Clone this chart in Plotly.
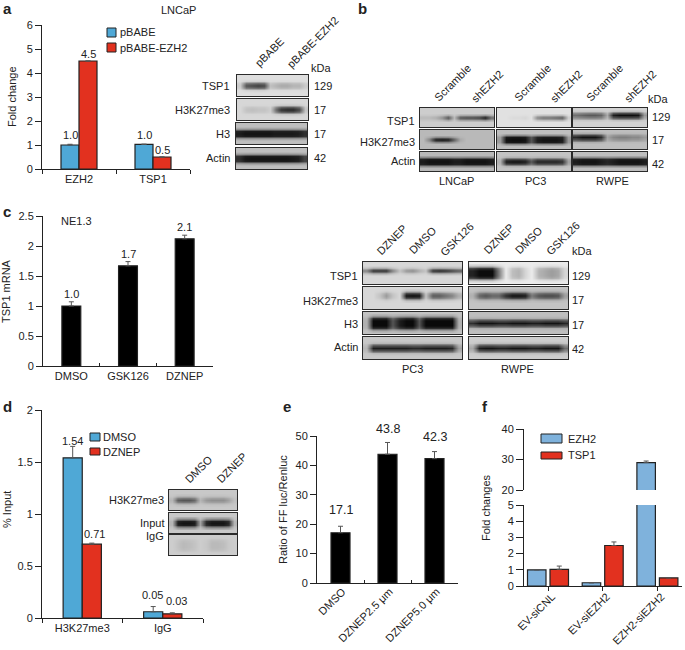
import numpy as np
import plotly.graph_objects as go

W, H = 685, 650
FONT = "Liberation Sans, Arial, sans-serif"
INK = "#222222"
BLUE = "#4FA8D6"
RED = "#E2311F"
SKY = "#7FB2DC"

# ---------- chart data ----------
a_cats = ["EZH2", "TSP1"]
a_pbabe = [1.0, 1.03]
a_ezh2 = [4.5, 0.5]
a_pbabe_err = [0.03, 0.0]
a_ezh2_err = [0.0, 0.0]
a_pbabe_labels = ["1.0", "1.0"]
a_ezh2_labels = ["4.5", "0.5"]

c_cats = ["DMSO", "GSK126", "DZNEP"]
c_vals = [1.0, 1.67, 2.12]
c_err = [0.07, 0.07, 0.06]
c_labels = ["1.0", "1.7", "2.1"]

d_cats = ["H3K27me3", "IgG"]
d_dmso = [1.54, 0.06]
d_dznep = [0.71, 0.04]
d_dmso_err = [0.11, 0.05]
d_dznep_err = [0.01, 0.01]
d_dmso_labels = ["1.54", "0.05"]
d_dznep_labels = ["0.71", "0.03"]

e_cats = ["DMSO", "DZNEP2.5 μm", "DZNEP5.0 μm"]
e_vals = [17.1, 43.8, 42.3]
e_err = [2.2, 4.0, 2.4]
e_labels = ["17.1", "43.8", "42.3"]

f_cats = ["EV-siCNL", "EV-siEZH2", "EZH2-siEZH2"]
f_ezh2 = [1.0, 0.2, 29.0]
f_tsp1 = [1.03, 2.5, 0.5]
f_ezh2_err = [0.0, 0.0, 0.5]
f_tsp1_err = [0.2, 0.22, 0.0]

# ---------- blot band readings: darkness along each strip, 0..1 ----------
THIN = [0, 0, 0, .3, 1, .35, 0, 0, 0]
MED = [0, 0, .1, .7, 1, .7, .1, 0, 0]
THICK = [0, 0, .3, .95, 1, .95, .3, 0, 0]
HUGE = [0, .15, .8, 1, 1, 1, .8, .15, 0]

a_tsp1 = [.1, .65, .7, .75, .7, .15, .2, .25, .25, .2, .2, .1]
a_h3k = [0, .1, .12, .1, .1, .05, .5, .8, .85, .85, .7, .1]
a_h3 = [.9, .95, .95, .95, .95, .95, .92, .92, .92, .92, .9, .8]
a_actin = [.8, .93, .95, .95, .95, .95, .95, .95, .95, .93, .9, .7]

b_lncap_tsp1 = [.1, .1, .15, .3, .6, .1, .6, .65, .65, .7, .9, .5]
b_lncap_h3k = [0, .3, .9, .95, .9, .5, .1, 0, 0, 0, 0, 0]
b_lncap_actin = [.9, .95, .95, .95, .95, .9, .9, .95, .95, .95, .95, .9]
b_pc3_tsp1 = [0, 0, .03, .03, .05, 0, .4, .5, .5, .55, .6, .1]
b_pc3_h3k = [.2, .95, .98, .98, .95, .6, .9, .95, .95, .95, .9, .2]
b_pc3_actin = [.1, .9, .95, .95, .9, .6, .85, .85, .85, .85, .8, .2]
b_rwpe_tsp1 = [.5, .55, .6, .6, .55, .2, .9, .98, .98, .98, .95, .3]
b_rwpe_h3k = [.85, .95, .95, .95, .8, .15, .3, .35, .35, .3, .3, .2]
b_rwpe_actin = [.9, .95, .95, .95, .9, .85, .9, .95, .95, .95, .95, .9]

c_pc3_tsp1 = [.4, .8, .8, .8, .4, .1, .3, .35, .2, .1, .8, .85, .8, .7, .6]
c_pc3_h3k = [0, 0, .1, .3, .1, 0, .95, .98, .95, .1, .6, .6, .5, .4, .2]
c_pc3_h3 = [.1, 1, 1, 1, .6, .9, 1, 1, .6, 1, 1, 1, 1, 1, .1]
c_pc3_actin = [.1, .9, .9, .9, .9, .9, .9, .85, .85, .9, .9, .9, .9, .85, .2]
c_rw_tsp1 = [.9, 1, 1, 1, .5, 0, .2, .25, .1, 0, .25, .3, .35, .3, .1]
c_rw_h3k = [.1, .5, .6, .5, .5, .8, .95, .95, .9, .4, .6, .65, .65, .6, .2]
c_rw_h3 = [.8, .95, .95, .95, .9, .9, .95, .95, .95, .9, .9, .95, .95, .95, .85]
c_rw_actin = [.2, .9, .95, .95, .9, .9, .95, .95, .95, .9, .9, .95, .95, .95, .5]

d_h3k = [.1, .55, .6, .6, .5, .1, .25, .3, .3, .3, .2, .05]
d_input = [.1, .9, .95, .95, .9, .2, .85, .95, .95, .95, .85, .1]
d_igg = [0, .05, .1, .08, .05, 0, .03, .1, .1, .08, .02, 0]

fig = go.Figure()
layout = {}
notes = []
shapes = []
n_axes = 0


def px(x):
    return x / W


def py(y):
    return 1 - y / H


def new_axes(left, top, right, bottom, xopts, yopts):
    global n_axes
    n_axes += 1
    s = "" if n_axes == 1 else str(n_axes)
    layout["xaxis" + s] = dict(domain=[px(left), px(right)], anchor="y" + s, **xopts)
    layout["yaxis" + s] = dict(domain=[py(bottom), py(top)], anchor="x" + s, **yopts)
    return "x" + s, "y" + s


def text(x, y, s, size=11, anchor="center", vanchor="middle", angle=0, bold=False):
    notes.append(dict(xref="paper", yref="paper", x=px(x), y=py(y), text=f"<b>{s}</b>" if bold else s,
                      showarrow=False, xanchor=anchor, yanchor=vanchor, textangle=angle,
                      font=dict(family=FONT, size=size, color=INK), borderpad=0, borderwidth=0))


def value_label(xa, ya, cat, y, s, dx, dy, size=11):
    notes.append(dict(xref=xa, yref=ya, x=cat, y=y, text=s, showarrow=False, xanchor="center",
                      yanchor="middle", xshift=dx, yshift=dy,
                      font=dict(family=FONT, size=size, color=INK), borderpad=0))


def swatch(x0, y0, x1, y1, color):
    shapes.append(dict(type="rect", xref="paper", yref="paper", x0=px(x0), x1=px(x1), y0=py(y0), y1=py(y1),
                       fillcolor=color, line=dict(color=INK, width=1)))


def bar(xa, ya, cats, vals, errs, color, width, offset, name):
    fig.add_trace(go.Bar(x=cats, y=vals, xaxis=xa, yaxis=ya, name=name, width=width, offset=offset,
                         marker=dict(color=color, line=dict(color=INK, width=1.2)), showlegend=False,
                         error_y=dict(type="data", symmetric=False, array=errs, arrayminus=[0] * len(errs),
                                      color="#555555", thickness=1, width=2.5)))


def x_opts(ncat, tickon="boundaries", ticks="outside", angle=0, ticklen=4, rng=None, standoff=0, shift=0):
    return dict(type="category", range=rng or [-0.5, ncat - 0.5], tickson=tickon, ticks=ticks, ticklen=ticklen,
                tickwidth=1, tickcolor=INK, showline=True, linecolor=INK, linewidth=1, showgrid=False,
                zeroline=False, tickangle=angle, tickfont=dict(family=FONT, size=11, color=INK), fixedrange=True,
                ticklabelstandoff=standoff, ticklabelshift=shift)


def y_opts(lo, hi, dtick, ticklen=6):
    return dict(range=[lo, hi], dtick=dtick, ticks="outside", ticklen=ticklen, tickwidth=1, tickcolor=INK,
                showline=True, linecolor=INK, linewidth=1, showgrid=False, zeroline=False,
                tickfont=dict(family=FONT, size=11, color=INK), fixedrange=True)


def blot(left, top, right, bottom, bg, darkness, profile, shift=0):
    hidden = dict(showline=True, mirror=True, linecolor="#2b2b2b", linewidth=1.3, ticks="",
                  showticklabels=False, showgrid=False, zeroline=False, fixedrange=True)
    prof = np.roll(np.array(profile, float), shift)
    z = bg * (1 - 0.95 * np.outer(prof, np.array(darkness, float)))
    xa, ya = new_axes(left, top, right, bottom,
                      dict(range=[-0.5, len(darkness) - 0.5], **hidden),
                      dict(range=[len(profile) - 0.5, -0.5], **hidden))
    fig.add_trace(go.Heatmap(z=z.tolist(), xaxis=xa, yaxis=ya, zmin=0, zmax=255, zsmooth="best",
                             colorscale=[[0, "#000000"], [1, "#ffffff"]], showscale=False, hoverinfo="skip"))


# ---------- panel a ----------
xa, ya = new_axes(42, 25, 190, 169, x_opts(2), y_opts(0, 6, 1))
w = 18 / 74
bar(xa, ya, a_cats, a_pbabe, a_pbabe_err, BLUE, w, -w, "pBABE")
bar(xa, ya, a_cats, a_ezh2, a_ezh2_err, RED, w, 0, "pBABE-EZH2")
for cat, v, e, s in zip(a_cats, a_pbabe, a_pbabe_err, a_pbabe_labels):
    value_label(xa, ya, cat, v + e, s, -9, 9)
for cat, v, e, s in zip(a_cats, a_ezh2, a_ezh2_err, a_ezh2_labels):
    value_label(xa, ya, cat, v + e, s, 9, 7)
text(12, 97, "Fold change", angle=-90)
text(178, 10, "LNCaP")
swatch(107, 28, 116, 37, BLUE)
swatch(107, 43, 116, 52, RED)
text(120, 32, "pBABE", anchor="left")
text(120, 48, "pBABE-EZH2", anchor="left")

blot(237, 75, 308, 96, 222, a_tsp1, MED)
blot(237, 99, 308, 120, 215, a_h3k, MED)
blot(236, 123, 307, 144, 190, a_h3, THICK)
blot(236, 148, 307, 169, 190, a_actin, THICK)
for y, s in zip([86, 110, 134, 158], ["TSP1", "H3K27me3", "H3", "Actin"]):
    text(230, y, s, anchor="right")
for y, s in zip([86, 110, 134, 158], ["129", "17", "17", "42"]):
    text(314, y, s, anchor="left")
text(311, 68, "kDa", anchor="left")
text(253, 69, "pBABE", anchor="left", vanchor="bottom", angle=-45)
text(285, 70, "pBABE-EZH2", anchor="left", vanchor="bottom", angle=-45)

# ---------- panel b ----------
b_cols = [(420, 494), (497, 571), (573, 647)]
b_rows = [(108, 127), (130, 149), (152, 171)]
b_strips = [
    [(205, b_lncap_tsp1, THIN, 0), (185, b_lncap_h3k, THIN, 0), (185, b_lncap_actin, THICK, 0)],
    [(225, b_pc3_tsp1, THIN, 0), (190, b_pc3_h3k, THICK, 0), (195, b_pc3_actin, MED, 0)],
    [(210, b_rwpe_tsp1, MED, -1), (190, b_rwpe_h3k, MED, -1), (190, b_rwpe_actin, THICK, 0)],
]
for (l, r), col in zip(b_cols, b_strips):
    for (t, bt), (bg, dark, prof, sh) in zip(b_rows, col):
        blot(l, t, r, bt, bg, dark, prof, sh)
for y, s in zip([121, 142, 161], ["TSP1", "H3K27me3", "Actin"]):
    text(415, y, s, anchor="right")
for y, s in zip([117, 140, 164], ["129", "17", "42"]):
    text(652, y, s, anchor="left")
text(648, 99, "kDa", anchor="left")
for x, s in zip([456, 535, 612], ["LNCaP", "PC3", "RWPE"]):
    text(x, 181, s)
for x, s in zip([432, 469, 512, 548, 584, 622], ["Scramble", "shEZH2"] * 3):
    text(x, 104, s, anchor="left", vanchor="bottom", angle=-45)

# ---------- panel c ----------
xa, ya = new_axes(43, 216, 213, 366, x_opts(3, ticks="inside", ticklen=3), y_opts(0, 2.5, 0.5))
bar(xa, ya, c_cats, c_vals, c_err, "#000000", 19 / 57, -9.5 / 57, "TSP1 mRNA")
for cat, v, e, s in zip(c_cats, c_vals, c_err, c_labels):
    value_label(xa, ya, cat, v + e, s, 0, 8)
text(6, 291, "TSP1 mRNA", angle=-90)
text(76, 221, "NE1.3")

c_cols = [(363, 462), (469, 568)]
c_rows = [(262, 284), (287, 309), (312, 334), (337, 359)]
c_strips = [
    [(215, c_pc3_tsp1, THIN, -1), (215, c_pc3_h3k, MED, -1), (195, c_pc3_h3, HUGE, 0), (200, c_pc3_actin, MED, 0)],
    [(235, c_rw_tsp1, HUGE, 0), (195, c_rw_h3k, MED, -1), (190, c_rw_h3, MED, 0), (205, c_rw_actin, MED, 0)],
]
for (l, r), col in zip(c_cols, c_strips):
    for (t, bt), (bg, dark, prof, sh) in zip(c_rows, col):
        blot(l, t, r, bt, bg, dark, prof, sh)
for y, s in zip([276, 301, 324, 347], ["TSP1", "H3K27me3", "H3", "Actin"]):
    text(358, y, s, anchor="right")
for y, s in zip([276, 300, 325, 349], ["129", "17", "17", "42"]):
    text(572, y, s, anchor="left")
text(572, 251, "kDa", anchor="left")
text(412, 369, "PC3")
text(517, 369, "RWPE")
for x, y, s in zip([374, 407, 438, 481, 513, 544], [257, 256, 258, 256, 256, 257], ["DZNEP", "DMSO", "GSK126"] * 2):
    text(x, y, s, anchor="left", vanchor="bottom", angle=-45)

# ---------- panel d ----------
xa, ya = new_axes(42, 410, 203, 618, x_opts(2), y_opts(0, 2, 0.5))
w = 19 / 80
bar(xa, ya, d_cats, d_dmso, d_dmso_err, BLUE, w, -w, "DMSO")
bar(xa, ya, d_cats, d_dznep, d_dznep_err, RED, w, 0, "DZNEP")
for cat, v, e, s, dx, dy in zip(d_cats, d_dmso, d_dmso_err, d_dmso_labels, [-10, -10], [5, 12]):
    value_label(xa, ya, cat, v + e, s, dx, dy)
for cat, v, e, s, dx, dy in zip(d_cats, d_dznep, d_dznep_err, d_dznep_labels, [12, 14], [9, 12]):
    value_label(xa, ya, cat, v + e, s, dx, dy)
text(7, 510, "% Input", angle=-90)
swatch(90, 433, 100, 441, BLUE)
swatch(90, 448, 100, 455, RED)
text(103, 437, "DMSO", anchor="left")
text(103, 452, "DZNEP", anchor="left")

blot(169, 490, 237, 510, 200, d_h3k, MED)
blot(169, 513, 237, 533, 200, d_input, THICK)
blot(169, 535, 237, 555, 205, d_igg, HUGE)
for y, s in zip([500, 523, 536], ["H3K27me3", "Input", "IgG"]):
    text(164, y, s, anchor="right")
text(183, 485, "DMSO", anchor="left", vanchor="bottom", angle=-45)
text(214, 485, "DZNEP", anchor="left", vanchor="bottom", angle=-45)

# ---------- panel e ----------
xa, ya = new_axes(317, 436, 458, 583, x_opts(3, ticks="inside", angle=-45, ticklen=3, standoff=-3, shift=2),
                  y_opts(0, 50, 10))
bar(xa, ya, e_cats, e_vals, e_err, "#000000", 19 / 47, -9.5 / 47, "Ratio")
for cat, v, e, s, dy in zip(e_cats, e_vals, e_err, e_labels, [16, 13.5, 15]):
    value_label(xa, ya, cat, v + e, s, 0, dy, size=12.5)
text(283, 510, "Ratio of FF luc/Renluc", angle=-90)

# ---------- panel f ----------
f_range = [-24 / 54.7, 134 / 54.7]
w = 18.5 / 54.7
off = 2 / 54.7
xl, yl = new_axes(524, 505, 682, 586, x_opts(3, tickon="labels", angle=-45, rng=f_range, standoff=-5, shift=4),
                  y_opts(0, 5, 1, ticklen=7))
bar(xl, yl, f_cats, f_ezh2, f_ezh2_err, SKY, w, -w - off, "EZH2")
bar(xl, yl, f_cats, f_tsp1, f_tsp1_err, RED, w, off, "TSP1")
xu, yu = new_axes(524, 429, 682, 490, dict(type="category", range=f_range, visible=False, fixedrange=True),
                  y_opts(20, 40, 10, ticklen=7))
bar(xu, yu, f_cats, f_ezh2, f_ezh2_err, SKY, w, -w - off, "EZH2")
text(486, 507, "Fold changes", angle=-90)
swatch(541, 434, 562, 443, SKY)
swatch(541, 452, 562, 459, RED)
text(568, 439, "EZH2", anchor="left")
text(568, 455, "TSP1", anchor="left")

# ---------- panel letters ----------
for x, y, s in zip([3, 358, 3, 3, 283, 482], [8, 8, 211, 406, 406, 406], list("abcdef")):
    text(x, y, s, size=15, anchor="left", bold=True)

fig.update_layout(width=W, height=H, margin=dict(l=0, r=0, t=0, b=0, autoexpand=False), autosize=False,
                  paper_bgcolor="white", plot_bgcolor="rgba(0,0,0,0)", barmode="overlay", showlegend=False,
                  annotations=notes, shapes=shapes, font=dict(family=FONT, size=11, color=INK), **layout)
fig.write_html("out.html", config=dict(displayModeBar=False),
               post_script="document.body.style.margin='0';document.body.style.overflow='hidden';")
